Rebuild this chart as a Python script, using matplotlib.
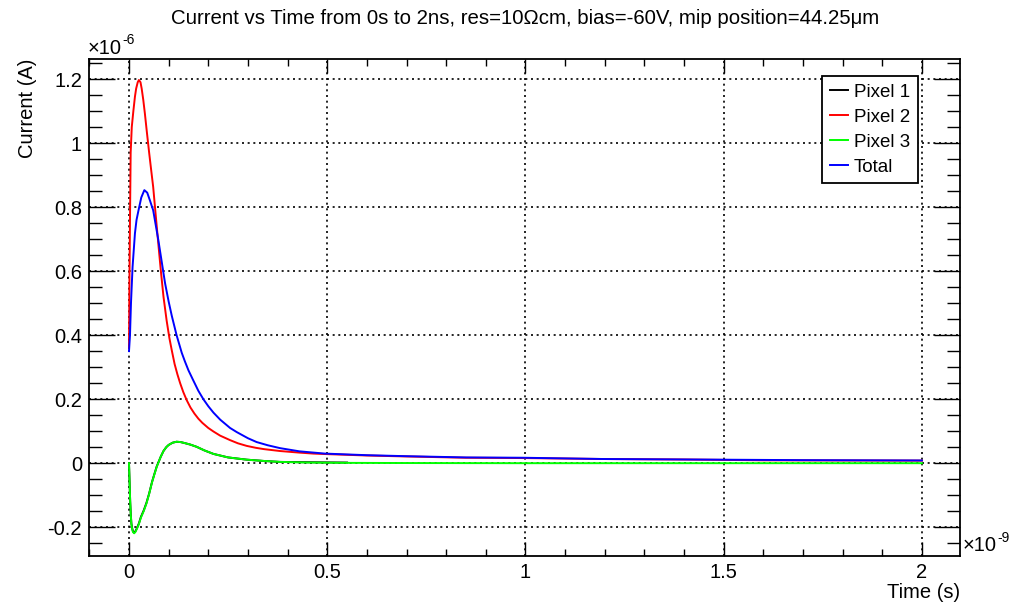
import numpy as np
import matplotlib.pyplot as plt
from matplotlib.ticker import MultipleLocator, FuncFormatter

plt.rcParams['font.family'] = ['Liberation Sans', 'DejaVu Sans']

# time in ns, current in uA
t_pix2 = [0, 0.001, 0.0025, 0.0042, 0.007, 0.011, 0.015, 0.018, 0.022, 0.025,
          0.029, 0.032, 0.036, 0.040, 0.045, 0.051, 0.056, 0.061, 0.067, 0.074,
          0.080, 0.087, 0.095, 0.102, 0.108, 0.115, 0.122, 0.129, 0.137, 0.1455,
          0.155, 0.165, 0.175, 0.185, 0.200, 0.213, 0.230, 0.255, 0.275, 0.297,
          0.320, 0.340, 0.381, 0.43, 0.465, 0.507, 0.6, 0.7, 0.85, 1.0,
          1.2, 1.4, 1.6, 1.8, 2.0]
i_pix2 = [0.36, 0.55, 0.76, 0.97, 1.05, 1.10, 1.145, 1.17, 1.19, 1.197,
          1.19, 1.17, 1.135, 1.093, 1.035, 0.968, 0.915, 0.863, 0.78, 0.685,
          0.605, 0.52, 0.445, 0.39, 0.352, 0.31, 0.278, 0.25, 0.222, 0.197,
          0.174, 0.155, 0.139, 0.126, 0.110, 0.099, 0.086, 0.072, 0.062, 0.054,
          0.048, 0.044, 0.038, 0.033, 0.030, 0.028, 0.024, 0.021, 0.017, 0.016,
          0.013, 0.0115, 0.009, 0.0085, 0.008]

t_pix3 = [0, 0.0015, 0.003, 0.0045, 0.006, 0.008, 0.010, 0.013, 0.016, 0.020,
          0.025, 0.030, 0.037, 0.044, 0.051, 0.058, 0.064, 0.070, 0.080, 0.087,
          0.094, 0.100, 0.110, 0.12, 0.13, 0.14, 0.155, 0.171, 0.19, 0.213,
          0.25, 0.297, 0.34, 0.381, 0.45, 0.55, 0.7, 1.0, 2.0]
i_pix3 = [0.0, -0.06, -0.12, -0.16, -0.19, -0.205, -0.215, -0.219, -0.215, -0.205,
          -0.19, -0.17, -0.15, -0.126, -0.095, -0.06, -0.035, -0.011, 0.02, 0.038,
          0.050, 0.057, 0.064, 0.067, 0.066, 0.063, 0.058, 0.051, 0.040, 0.029,
          0.018, 0.011, 0.007, 0.004, 0.002, 0.001, 0.0005, 0.0, 0.0]

t_pix1 = [0, 0.0015, 0.003, 0.0045, 0.006, 0.008, 0.010, 0.013, 0.016, 0.020,
          0.025, 0.030, 0.037, 0.044, 0.051, 0.058, 0.064, 0.070, 0.080, 0.087,
          0.094, 0.100, 0.110, 0.12, 0.13, 0.14, 0.155, 0.171, 0.19, 0.213,
          0.25, 0.297, 0.34, 0.381, 0.45, 0.55]
i_pix1 = [0.0, -0.06, -0.12, -0.16, -0.188, -0.203, -0.213, -0.217, -0.213, -0.203,
          -0.188, -0.168, -0.148, -0.124, -0.094, -0.059, -0.034, -0.010, 0.02, 0.038,
          0.050, 0.057, 0.064, 0.067, 0.066, 0.063, 0.058, 0.051, 0.040, 0.029,
          0.018, 0.011, 0.007, 0.004, 0.003, 0.002]

t_total = [0, 0.0025, 0.005, 0.009, 0.015, 0.019, 0.024, 0.031, 0.0387, 0.046,
           0.053, 0.061, 0.074, 0.091, 0.100, 0.108, 0.120, 0.133, 0.141, 0.150,
           0.162, 0.175, 0.1875, 0.200, 0.213, 0.230, 0.255, 0.272, 0.300, 0.322,
           0.350, 0.381, 0.43, 0.494, 0.6, 0.696, 0.85, 0.994, 1.2, 1.418,
           1.7, 2.0]
i_total = [0.35, 0.40, 0.50, 0.613, 0.718, 0.76, 0.79, 0.83, 0.853, 0.845,
           0.82, 0.79, 0.697, 0.562, 0.505, 0.460, 0.400, 0.345, 0.318, 0.290,
           0.259, 0.226, 0.200, 0.178, 0.158, 0.136, 0.110, 0.097, 0.078, 0.066,
           0.056, 0.047, 0.037, 0.030, 0.025, 0.022, 0.018, 0.017, 0.013, 0.0115,
           0.0095, 0.0085]

fig = plt.figure(figsize=(10.12, 6.03), dpi=100)
ax = fig.add_axes([0.0879, 0.0779, 0.8607, 0.8242])

lw = 1.4
ax.plot(t_pix1, i_pix1, color='black', lw=lw, label='Pixel 1')
ax.plot(t_pix2, i_pix2, color='#ff0000', lw=lw, label='Pixel 2')
ax.plot(t_pix3, i_pix3, color='#00ff00', lw=lw, label='Pixel 3')
ax.plot(t_total, i_total, color='#0000ff', lw=lw, label='Total')

ax.set_xlim(-0.101, 2.096)
ax.set_ylim(-0.29, 1.2625)

ax.xaxis.set_major_locator(MultipleLocator(0.5))
ax.xaxis.set_minor_locator(MultipleLocator(0.1))
ax.yaxis.set_major_locator(MultipleLocator(0.2))
ax.yaxis.set_minor_locator(MultipleLocator(0.05))
fmt = FuncFormatter(lambda v, p: f'{round(v, 3):g}')
ax.xaxis.set_major_formatter(fmt)
ax.yaxis.set_major_formatter(fmt)

fs = 14.5
ax.tick_params(which='both', direction='in', top=True, right=True,
               labelsize=fs, width=1.0, color='black')
ax.tick_params(axis='y', which='major', length=18.7, pad=5)
ax.tick_params(axis='y', which='minor', length=9.4)
ax.tick_params(axis='x', which='major', length=10, pad=5)
ax.tick_params(axis='x', which='minor', length=5)
for s in ax.spines.values():
    s.set_linewidth(1.3)

ax.grid(True, which='major', color='black', linestyle=(0, (1.2, 2.2)), linewidth=1.2)

ax.set_xlabel('Time (s)', fontsize=fs, loc='right')
ax.xaxis.set_label_coords(1.0, -0.054)
ax.set_ylabel('Current (A)', fontsize=fs, loc='top')
ax.yaxis.set_label_coords(-0.0597, 1.0)

# axis multipliers: "x10" with a small raised exponent
def multiplier(x, y, exp):
    base = fig.text(x, y, '×10', fontsize=fs, ha='left', va='baseline')
    ax.annotate(exp, xy=(1, 1), xycoords=base, xytext=(0.5, -1),
                textcoords='offset points', fontsize=10, ha='left', va='center')

multiplier(0.087, 0.911, '-6')
multiplier(0.951, 0.086, '-9')

fig.suptitle('Current vs Time from 0s to 2ns, res=10Ωcm, bias=-60V, mip position=44.25μm',
             x=0.519, y=0.985, fontsize=14.7, va='top')

leg = ax.legend(loc='upper left', bbox_to_anchor=(0.8416, 0.9658), fontsize=13.5,
                handlelength=1.0, handletextpad=0.3, labelspacing=0.42,
                borderpad=0.4, borderaxespad=0, fancybox=False, framealpha=1)
leg.get_frame().set_edgecolor('black')
leg.get_frame().set_linewidth(1.3)

plt.savefig('out.png', dpi=100)
plt.close()
